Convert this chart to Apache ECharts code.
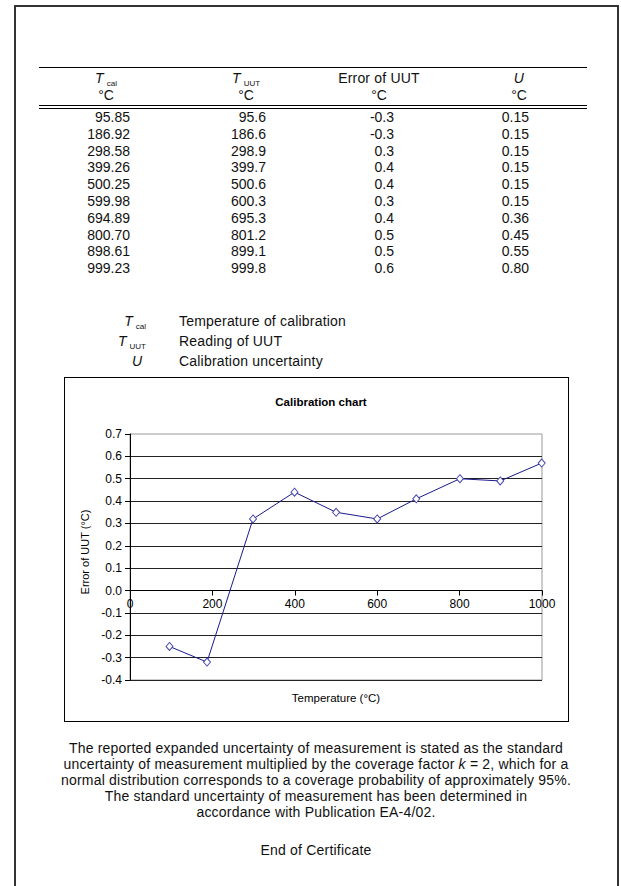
<!DOCTYPE html>
<html>
<head>
<meta charset="utf-8">
<script src="https://cdn.jsdelivr.net/npm/echarts@6/dist/echarts.min.js"></script>
<style>
  html, body { margin:0; padding:0; background:#fff; }
  #page { position:relative; width:621px; height:886px; overflow:hidden; background:#fff;
          font-family:"Liberation Sans", Arial, sans-serif; color:#111; }
  .abs { position:absolute; white-space:nowrap; font-size:14px; line-height:16px; height:16px; }
  .txt { letter-spacing:0.2px; }
  .it { font-style:italic; }
  .sub { font-size:8px; position:relative; top:3px; margin-left:3px; letter-spacing:0; }
  #chart { position:absolute; left:0; top:0; width:621px; height:886px; z-index:2; }
</style>
</head>
<body>
<div id="page">
  <div style="position:absolute;left:14px;top:5px;width:601px;height:900px;border-left:2px solid #333;border-top:2px solid #333;border-right:2px solid #333;"></div>
  <div style="position:absolute;left:39px;top:67px;width:548px;height:1px;background:#000;"></div>
  <div style="position:absolute;left:39px;top:105px;width:548px;height:1px;background:#000;"></div>
  <div style="position:absolute;left:39px;top:108px;width:548px;height:1px;background:#000;"></div>
  <div style="position:absolute;left:64px;top:377px;width:503px;height:343px;border:1px solid #000;"></div>
  <div id="table"></div>
  <div id="legend"></div>
  <div id="notes"></div>
  <div id="chart"></div>
</div>
<script>
// ---- table data ----
const tCal   = ['95.85','186.92','298.58','399.26','500.25','599.98','694.89','800.70','898.61','999.23'];
const tUut   = ['95.6','186.6','298.9','399.7','500.6','600.3','695.3','801.2','899.1','999.8'];
const errUut = ['-0.3','-0.3','0.3','0.4','0.4','0.3','0.4','0.5','0.5','0.6'];
const uncU   = ['0.15','0.15','0.15','0.15','0.15','0.15','0.36','0.45','0.55','0.80'];
const headers = ['<span class="it">T</span><span class="sub">cal</span>',
                 '<span class="it">T</span><span class="sub">UUT</span>',
                 'Error of UUT',
                 '<span class="it">U</span>'];
const unitLabel = '°C';

// ---- chart data ----
const chartTemp = [95.85, 186.92, 298.58, 399.26, 500.25, 599.98, 694.89, 800.70, 898.61, 999.23];
const chartErr  = [-0.25, -0.32, 0.32, 0.44, 0.35, 0.32, 0.41, 0.50, 0.49, 0.57];
const xTickValues = [0, 200, 400, 600, 800, 1000];

// ---- legend / notes text ----
const legendSymbols = ['<span class="it">T</span><span class="sub">cal</span>',
                       '<span class="it">T</span><span class="sub">UUT</span>',
                       '<span class="it">U</span>'];
const legendTexts = ['Temperature of calibration', 'Reading of UUT', 'Calibration uncertainty'];
const noteLines = [
  'The reported expanded uncertainty of measurement is stated as the standard',
  'uncertainty of measurement multiplied by the coverage factor <span class="it">k</span> = 2, which for a',
  'normal distribution corresponds to a coverage probability of approximately 95%.',
  'The standard uncertainty of measurement has been determined in',
  'accordance with Publication EA-4/02.'
];
const endText = 'End of Certificate';

// ---- build table ----
const tbl = document.getElementById('table');
const headerCenters = [106, 246, 379, 519];
const valueRights = [130, 266, 394, 529];
function addText(parent, html, x, yc, align, cls) {
  const d = document.createElement('div');
  d.className = 'abs' + (cls ? ' ' + cls : '');
  d.innerHTML = html;
  d.style.top = (yc - 8) + 'px';
  if (align === 'center') { d.style.left = (x - 300) + 'px'; d.style.width = '600px'; d.style.textAlign = 'center'; }
  else if (align === 'right') { d.style.left = (x - 300) + 'px'; d.style.width = '300px'; d.style.textAlign = 'right'; }
  else { d.style.left = x + 'px'; }
  parent.appendChild(d);
  return d;
}
headers.forEach((h, i) => {
  addText(tbl, h, headerCenters[i], 78, 'center', 'txt');
  addText(tbl, unitLabel, headerCenters[i], 95, 'center');
});
const cols = [tCal, tUut, errUut, uncU];
for (let r = 0; r < tCal.length; r++) {
  cols.forEach((c, i) => addText(tbl, c[r], valueRights[i], 117 + r * 16.8, 'right'));
}
// ---- legend ----
const lg = document.getElementById('legend');
const legendY = [321, 341, 361];
legendSymbols.forEach((s, i) => {
  addText(lg, s, i === 2 ? 142 : 146, legendY[i], 'right');
  addText(lg, legendTexts[i], 179, legendY[i], 'left', 'txt');
});
// ---- notes ----
const nt = document.getElementById('notes');
noteLines.forEach((l, i) => addText(nt, l, 316, 748 + i * 16, 'center', 'txt'));
addText(nt, endText, 316, 850, 'center', 'txt');

// ---- chart ----
const gridTop = 434, gridHeight = 246;
const yMin = -0.4, yMax = 0.7;
// distance from the grid bottom up to the zero line, so the x axis sits on y = 0
const zeroOffset = gridHeight * (0 - yMin) / (yMax - yMin);

const chart = echarts.init(document.getElementById('chart'), null, { renderer: 'svg' });
chart.setOption({
  animation: false,
  textStyle: { fontFamily: '"Liberation Sans", Arial, sans-serif' },
  title: {
    text: 'Calibration chart', left: 316, top: 391, textAlign: 'center',
    textStyle: { fontSize: 11.5, fontWeight: 'bold', color: '#000' }
  },
  grid: { left: 130, top: gridTop, width: 412, height: gridHeight, show: true, borderColor: '#999', borderWidth: 1, backgroundColor: 'transparent' },
  xAxis: {
    type: 'value', min: 0, max: 1000, interval: 200,
    position: 'bottom', offset: -zeroOffset,
    axisLine: { onZero: false, lineStyle: { color: '#000', width: 1 } },
    axisTick: { show: true, length: 5, lineStyle: { color: '#000' } },
    axisLabel: { color: '#000', fontSize: 12, margin: 7, formatter: v => xTickValues.includes(v) ? String(v) : '' },
    splitLine: { show: false },
    name: 'Temperature (°C)', nameLocation: 'middle', nameGap: 101,
    nameTextStyle: { color: '#000', fontSize: 11.5 }
  },
  yAxis: {
    type: 'value', min: yMin, max: yMax, interval: 0.1,
    axisLine: { show: true, onZero: false, lineStyle: { color: '#000', width: 1 } },
    axisTick: { show: true, length: 5, lineStyle: { color: '#000' } },
    axisLabel: { color: '#000', fontSize: 12, margin: 8, formatter: v => v.toFixed(1) },
    splitLine: { show: true, showMaxLine: false, lineStyle: { color: '#222', width: 1 } },
    name: 'Error of UUT (°C)', nameLocation: 'middle', nameGap: 37,
    nameTextStyle: { color: '#000', fontSize: 11, padding: [0, 0, 0, 10] }
  },
  series: [{
    type: 'line',
    data: chartTemp.map((t, i) => [t, chartErr[i]]),
    symbol: 'diamond', symbolSize: [7, 8], showSymbol: true,
    lineStyle: { color: '#1a1a8c', width: 1 },
    itemStyle: { color: '#fff', borderColor: '#4848b0', borderWidth: 1 },
    z: 5
  }]
});
</script>
</body>
</html>
